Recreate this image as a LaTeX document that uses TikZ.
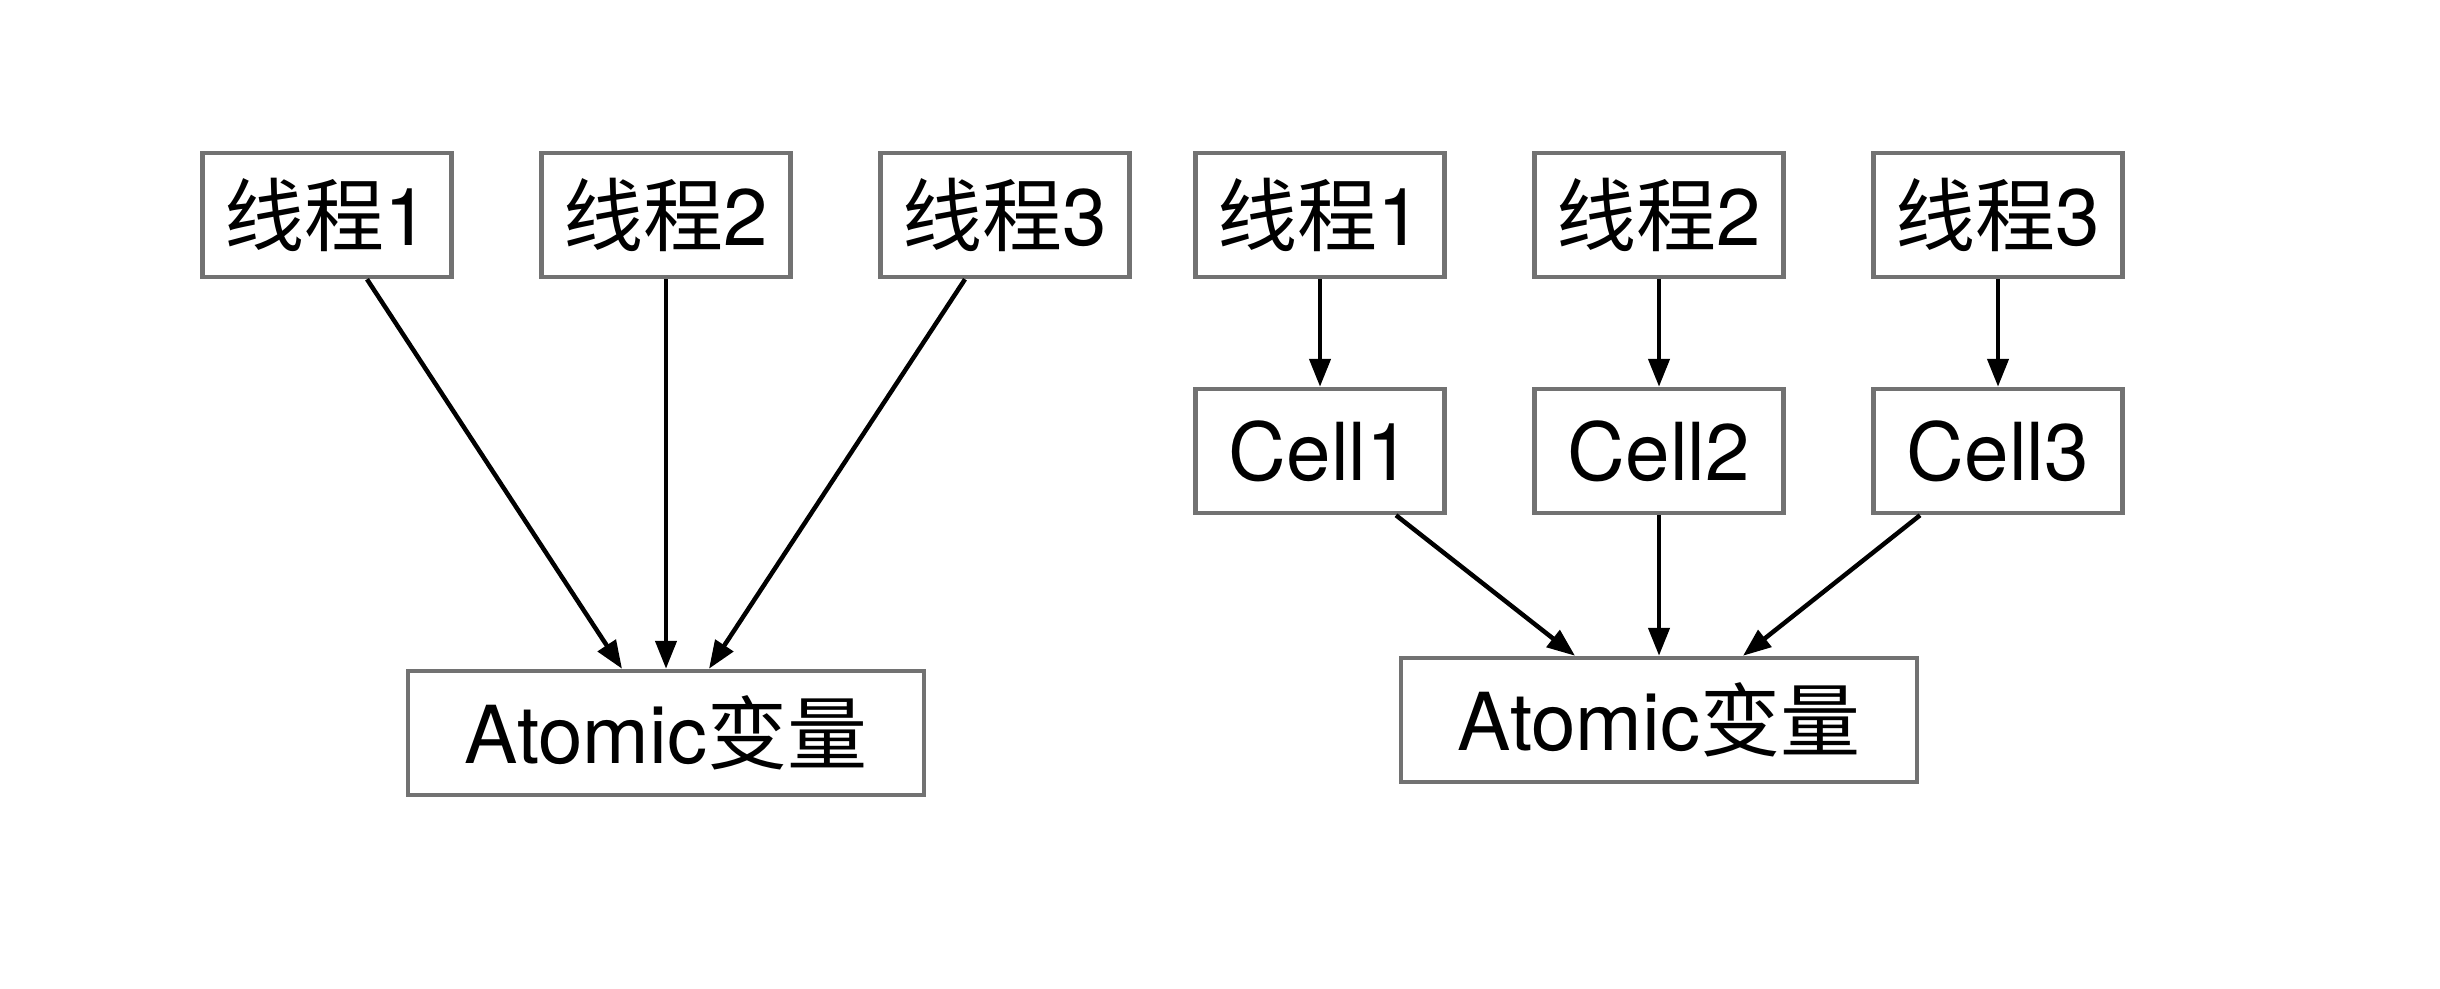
\documentclass[tikz,border=0pt]{standalone}
\usepackage{fontspec}
\setmainfont{TeX Gyre Heros}
\newfontfamily\cjk{Noto Sans CJK SC}
\usetikzlibrary{arrows.meta,calc}
\definecolor{boxgray}{HTML}{727272}
\begin{document}
\begin{tikzpicture}[x=1pt,y=-1pt,
  box/.style={draw=boxgray, line width=4.5pt, fill=white, inner sep=0pt,
    minimum width=249pt, minimum height=124pt, font=\fontsize{80}{84}\selectfont},
  wide/.style={box, minimum width=516pt},
  conn/.style={draw=black, line width=4.5pt, -{Triangle[length=28pt,width=21pt]}}]
\useasboundingbox[fill=white] (0,0) rectangle (2440,988);
% left group
\node[box] (t1) at (327,215) {{\cjk 线程}1};
\node[box] (t2) at (666,215) {{\cjk 线程}2};
\node[box] (t3) at (1005,215) {{\cjk 线程}3};
\node[wide] (a1) at (666,733) {Atomic{\cjk 变量}};
\draw[conn] ($(t1.south)+(40,0)$) -- ($(a1.north)+(-44,0)$);
\draw[conn] (t2.south) -- (a1.north);
\draw[conn] ($(t3.south)+(-40,0)$) -- ($(a1.north)+(43,0)$);
% right group
\node[box] (r1) at (1320,215) {{\cjk 线程}1};
\node[box] (r2) at (1659,215) {{\cjk 线程}2};
\node[box] (r3) at (1998,215) {{\cjk 线程}3};
\node[box] (c1) at (1320,451) {Cell1};
\node[box] (c2) at (1659,451) {Cell2};
\node[box] (c3) at (1998,451) {Cell3};
\node[wide] (a2) at (1659,720) {Atomic{\cjk 变量}};
\draw[conn] (r1.south) -- (c1.north);
\draw[conn] (r2.south) -- (c2.north);
\draw[conn] (r3.south) -- (c3.north);
\draw[conn] ($(c1.south)+(76,0)$) -- ($(a2.north)+(-84,0)$);
\draw[conn] (c2.south) -- (a2.north);
\draw[conn] ($(c3.south)+(-78,0)$) -- ($(a2.north)+(84,0)$);
\end{tikzpicture}
\end{document}
